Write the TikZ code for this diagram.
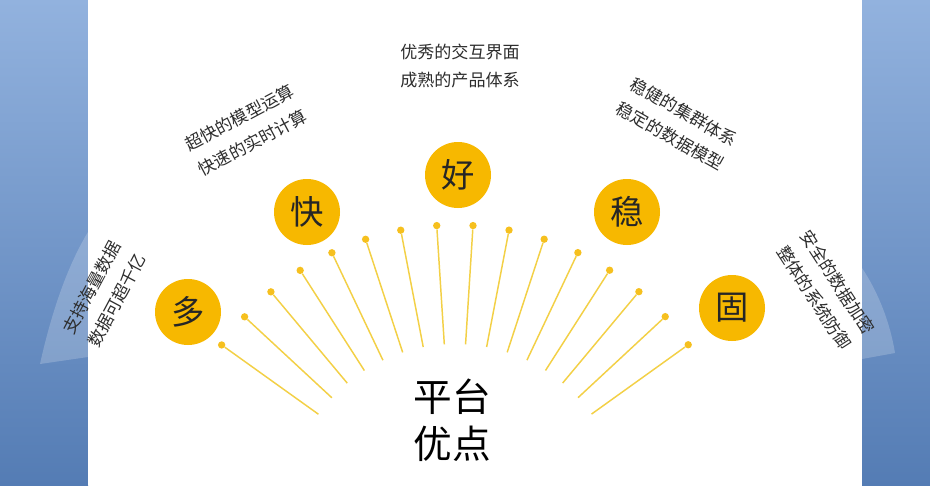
\documentclass[tikz,border=0pt]{standalone}
\usepackage{fontspec}
\setmainfont{Noto Sans CJK SC}
\definecolor{gold}{RGB}{247,184,0}
\definecolor{spoke}{RGB}{243,208,70}
\definecolor{pinc}{RGB}{246,192,30}
\definecolor{skytop}{RGB}{146,178,222}
\definecolor{skybot}{RGB}{84,124,180}
\definecolor{ink}{RGB}{45,45,45}

\begin{document}
\begin{tikzpicture}[x=0.75pt, y=-0.75pt,
  badge/.style={circle, fill=gold, minimum size=49.5pt, inner sep=0pt,
    font=\fontsize{25}{25}\selectfont, text=black!85},
  note/.style={align=center, text=ink, font=\fontsize{12.8}{21}\selectfont},
  pin/.style={circle, fill=pinc, inner sep=0pt, minimum size=5.5pt}]
  \useasboundingbox (0,0) rectangle (930,485);
  % blue side panels
  \shade[top color=skytop, bottom color=skybot] (0,0) rectangle (88,485);
  \shade[top color=skytop, bottom color=skybot] (862,0) rectangle (930,485);
  % faint ring pieces behind the page
  \fill[white, opacity=0.2] (88,357) -- (40,364) .. controls (52,310) and (68,265) .. (88,232) -- cycle;
  \fill[white, opacity=0.2] (862,268) .. controls (878,292) and (890,322) .. (895,353) -- (862,359) -- cycle;
  \fill[white] (88,0) rectangle (862,485);

  % spokes fanning out of (455,512)
  \foreach \k in {0,...,15} {
    \pgfmathsetmacro{\ang}{144.4-7.25*\k}
    \coordinate (s\k) at ({455+168*cos(\ang)},{512-168*sin(\ang)});
    \node[pin] (d\k) at ({455+287*cos(\ang)},{512-287*sin(\ang)}) {};
    \draw[spoke, line width=1.1pt] (s\k) -- (d\k);
  }

  \node[badge] (duo) at (188,312) {多};
  \node[badge] (kuai) at (307,212) {快};
  \node[badge] (hao) at (458,175) {好};
  \node[badge] (wen) at (627,212) {稳};
  \node[badge] (gu) at (732,308) {固};

  \node[note, rotate=62] (nduo) at (104,294) {支持海量数据\\数据可超千亿};
  \node[note, rotate=28] (nkuai) at (246,130) {超快的模型运算\\快速的实时计算};
  \node[note] (nhao) at (460,66) {优秀的交互界面\\成熟的产品体系};
  \node[note, rotate=-29.5] (nwen) at (677,124) {稳健的集群体系\\稳定的数据模型};
  \node[note, rotate=-57] (ngu) at (826,290) {安全的数据加密\\整体的系统防御};

  \node[align=center, font=\fontsize{29}{35}\selectfont] (title) at (452,420) {平台\\优点};
\end{tikzpicture}
\end{document}
